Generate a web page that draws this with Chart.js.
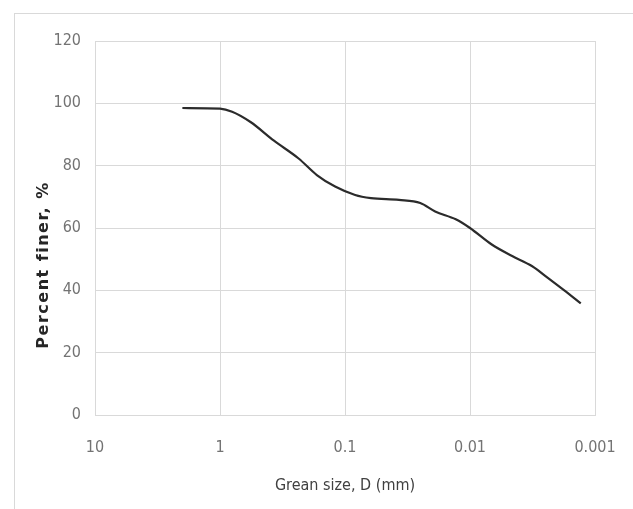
<!DOCTYPE html>
<html>
<head>
<meta charset="utf-8">
<script src="https://cdn.jsdelivr.net/npm/chart.js@4"></script>
<style>
  html, body { margin: 0; padding: 0; background: #fff; overflow: hidden; }
  #wrap { position: relative; width: 633px; height: 509px; }
  #frame { position: absolute; left: 14px; top: 13px; width: 640px; height: 520px; border: 1px solid #d9d9d9; box-sizing: border-box; }
  canvas { position: absolute; left: 0; top: 0; }
</style>
</head>
<body>
<div id="wrap">
  <div id="frame"></div>
  <canvas id="chart" width="633" height="509"></canvas>
</div>
<script>
// grain size distribution
const grainSize = [2.0, 1.0, 0.8, 0.57, 0.37, 0.235, 0.168, 0.12, 0.083, 0.062, 0.037, 0.025, 0.019, 0.013, 0.01, 0.0067, 0.0046, 0.0032, 0.0024, 0.00175, 0.0013];
const percentFiner = [98.5, 98.3, 97.3, 94, 88, 82.3, 77, 73.3, 70.6, 69.6, 69, 68, 65.3, 62.8, 60, 54.7, 51, 47.8, 44.1, 39.9, 35.8];

const xTicks = [10, 1, 0.1, 0.01, 0.001];
const xTickLabels = ["10", "1", "0.1", "0.01", "0.001"];
const yTicks = [0, 20, 40, 60, 80, 100, 120];

const tickFont = { family: "'Liberation Sans Narrow', 'DejaVu Sans Condensed', sans-serif", size: 16 };
const gridColor = "#d9d9d9";

// y title sits a bit below the middle of the axis, so draw it by hand
const yTitlePlugin = {
  id: "yTitle",
  afterDraw(chart) {
    const ctx = chart.ctx;
    ctx.save();
    ctx.translate(44, 265);
    ctx.rotate(-Math.PI / 2);
    ctx.font = "bold 16px 'DejaVu Sans', sans-serif";
    ctx.letterSpacing = "1.5px";
    ctx.fillStyle = "#262626";
    ctx.textAlign = "center";
    ctx.textBaseline = "middle";
    ctx.fillText("Percent finer, %", 0, 0);
    ctx.restore();
  }
};

new Chart(document.getElementById("chart").getContext("2d"), {
  type: "line",
  data: {
    datasets: [
      {
        data: grainSize.map((d, i) => ({ x: d, y: percentFiner[i] })),
        borderColor: "#2b2b2b",
        borderWidth: 2.2,
        pointRadius: 0,
        cubicInterpolationMode: "monotone",
        fill: false
      }
    ]
  },
  options: {
    responsive: false,
    animation: false,
    layout: { padding: { left: 0, top: 41, right: 38, bottom: 0 } },
    plugins: { legend: { display: false }, tooltip: { enabled: false } },
    scales: {
      x: {
        type: "logarithmic",
        reverse: true,
        min: 0.001,
        max: 10,
        afterBuildTicks: (scale) => { scale.ticks = xTicks.map((v) => ({ value: v })); },
        afterFit: (scale) => {
          scale.height = 94;
          scale.paddingLeft = 0;
          scale.paddingRight = 0;
        },
        ticks: {
          font: tickFont,
          color: "#737373",
          padding: 23,
          maxRotation: 0,
          autoSkip: false,
          callback: (v) => xTickLabels[xTicks.indexOf(v)] ?? ""
        },
        grid: { color: gridColor, drawTicks: false },
        border: { color: gridColor },
        title: {
          display: true,
          text: "Grean size, D (mm)",
          font: tickFont,
          color: "#404040",
          padding: { top: 0, bottom: 14 }
        }
      },
      y: {
        min: 0,
        max: 120,
        afterBuildTicks: (scale) => { scale.ticks = yTicks.map((v) => ({ value: v })); },
        afterFit: (scale) => { scale.width = 95; },
        ticks: { font: tickFont, color: "#737373", padding: 14 },
        grid: { color: gridColor, drawTicks: false },
        border: { display: false }
      }
    }
  },
  plugins: [yTitlePlugin]
});
</script>
</body>
</html>
